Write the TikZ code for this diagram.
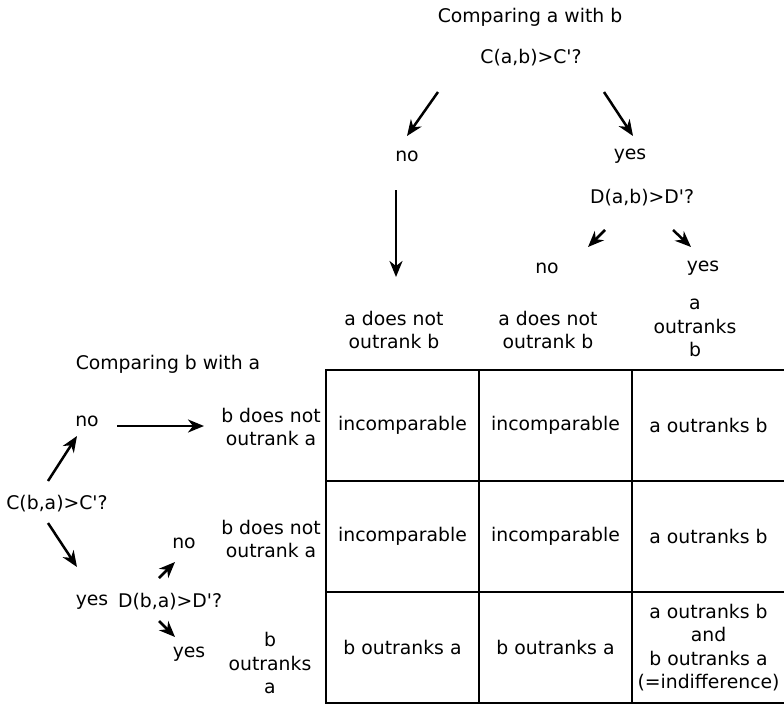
\documentclass[tikz,border=0pt]{standalone}
\usepackage{fontspec}
\setmainfont{DejaVu Sans}
\usepackage{tikz}
\usetikzlibrary{arrows.meta, calc}

\begin{document}
\begin{tikzpicture}[
        x=1pt, y=-1pt,
        font=\fontsize{18.8}{23.5}\selectfont,
        lbl/.style={align=center, inner sep=2pt},
        cell/.style={draw, line width=2.2pt, minimum width=153pt, minimum height=111pt, align=center},
        arrow/.style={line width=2.5pt, -{Stealth[length=16pt, width=13pt, inset=5pt]}}
    ]
        \useasboundingbox (0,0) rectangle (784,705);

        % comparing a with b
        \node[lbl] (cmpab) at (530,17) {Comparing a with b};
        \node[lbl] (cab) at (531,58) {C(a,b)>C\textquotesingle?};
        \node[lbl] (noA) at (407,156) {no};
        \node[lbl] (yesA) at (630,156) {yes};
        \node[lbl] (dab) at (642,198) {D(a,b)>D\textquotesingle?};
        \node[lbl] (noB) at (547,268) {no};
        \node[lbl] (yesB) at (703,268) {yes};

        \node[lbl] (hdr1) at (394,330) {a does not\\outrank b};
        \node[lbl] (hdr2) at (548,330) {a does not\\outrank b};
        \node[lbl] (hdr3) at (695,328) {a\\outranks\\b};

        % comparing b with a
        \node[lbl] (cmpba) at (168,364) {Comparing b with a};
        \node[lbl] (noC) at (87,421) {no};
        \node[lbl] (cba) at (57,504) {C(b,a)>C\textquotesingle?};
        \node[lbl] (yesC) at (92,602) {yes};
        \node[lbl] (dba) at (170,602) {D(b,a)>D\textquotesingle?};
        \node[lbl] (noD) at (184,543) {no};
        \node[lbl] (yesD) at (189,654) {yes};

        \node[lbl] (bnot1) at (271,427) {b does not\\outrank a};
        \node[lbl] (bnot2) at (271,539) {b does not\\outrank a};
        \node[lbl] (bout) at (270,663) {b\\outranks\\a};

        % result table
        \node[cell] (c11) at (402.5,425.5) {incomparable};
        \node[cell] (c12) at (555.5,425.5) {incomparable};
        \node[cell] (c13) at (708.5,425.5) {a outranks b};
        \node[cell] (c21) at (402.5,536.5) {incomparable};
        \node[cell] (c22) at (555.5,536.5) {incomparable};
        \node[cell] (c23) at (708.5,536.5) {a outranks b};
        \node[cell] (c31) at (402.5,647.5) {b outranks a};
        \node[cell] (c32) at (555.5,647.5) {b outranks a};
        \node[cell] (c33) at (708.5,647.5) {a outranks b\\and\\b outranks a\\(=indifference)};

        % arrows
        \draw[arrow] ($(cab)+(-93,34)$) -- ($(noA)+(0,-20)$);
        \draw[arrow] ($(cab)+(73,34)$) -- ($(yesA)+(3,-20)$);
        \draw[arrow] ($(dab)+(-37,32)$) -- ($(noB)+(41,-21)$);
        \draw[arrow] ($(dab)+(31,32)$) -- ($(yesB)+(-12,-21)$);
        \draw[arrow] ($(noA)+(-11,34)$) -- ($(hdr1)+(2,-53)$);

        \draw[arrow] ($(noC)+(30,5)$) -- ($(bnot1)+(-67,-1)$);
        \draw[arrow] ($(cba)+(-9,-23)$) -- ($(noC)+(-10,15)$);
        \draw[arrow] ($(cba)+(-9,19)$) -- ($(yesC)+(-15,-35)$);
        \draw[arrow] ($(dba)+(-11,-24)$) -- ($(noD)+(-9,19)$);
        \draw[arrow] ($(dba)+(-11,19)$) -- ($(yesD)+(-14,-17)$);
    \end{tikzpicture}
\end{document}
